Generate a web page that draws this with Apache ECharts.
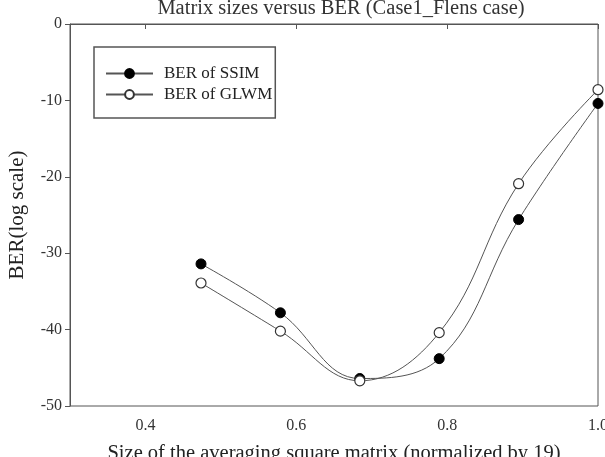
<!DOCTYPE html>
<html>
<head>
<meta charset="utf-8">
<script src="https://cdn.jsdelivr.net/npm/echarts@6/dist/echarts.min.js"></script>
<style>
  html, body { margin: 0; padding: 0; background: #fff; }
  #chart { width: 605px; height: 457px; }
</style>
</head>
<body>
<div id="chart"></div>
<script>
// matrix sizes 9..19, normalized by 19
const sizes = [9 / 19, 11 / 19, 13 / 19, 15 / 19, 17 / 19, 19 / 19]
const berSSIM = [-31.4, -37.8, -46.4, -43.8, -25.6, -10.4]
const berGLWM = [-33.9, -40.2, -46.7, -40.4, -20.9, -8.6]
const xTicks = [0.4, 0.6, 0.8, 1.0]

const font = 'Liberation Serif'
const axisColor = '#555'

const chart = echarts.init(document.getElementById('chart'))

const option = {
  backgroundColor: '#fff',
  animation: false,
  title: {
    text: 'Matrix sizes versus BER (Case1_Flens case)',
    left: 336,
    textAlign: 'center',
    top: -7,
    textStyle: { fontFamily: font, fontSize: 20.5, fontWeight: 'normal', color: '#333' }
  },
  legend: {
    orient: 'vertical',
    left: 94,
    top: 47,
    padding: [18, 3, 15, 11],
    itemGap: 4,
    itemWidth: 47,
    itemHeight: 11,
    borderColor: '#555',
    borderWidth: 1.5,
    textStyle: { fontFamily: font, fontSize: 17, color: '#222', padding: [0, 0, 0, 6] },
    data: ['BER of SSIM', 'BER of GLWM']
  },
  grid: {
    left: 70, right: 7, top: 24, bottom: 51,
    outerBoundsMode: 'none',
    containLabel: false,
    show: true,
    borderColor: axisColor,
    borderWidth: 1
  },
  xAxis: {
    type: 'value',
    min: 0.3,
    max: 1.0,
    name: 'Size of the averaging square matrix (normalized by 19)',
    nameLocation: 'middle',
    nameGap: 37,
    nameTextStyle: { fontFamily: font, fontSize: 20.5, color: '#222' },
    axisLine: { show: true, lineStyle: { color: axisColor } },
    axisTick: { show: true, customValues: xTicks, length: 5, lineStyle: { color: axisColor } },
    axisLabel: {
      customValues: xTicks,
      fontFamily: font, fontSize: 16, color: '#333', margin: 12,
      formatter: v => v.toFixed(1)
    },
    splitLine: { show: false }
  },
  yAxis: {
    type: 'value',
    min: -50,
    max: 0,
    interval: 10,
    name: 'BER(log scale)',
    nameLocation: 'middle',
    nameGap: 42,
    nameTextStyle: { fontFamily: font, fontSize: 21, color: '#222' },
    axisLine: { show: true, lineStyle: { color: axisColor } },
    axisTick: { show: true, length: 5, lineStyle: { color: axisColor } },
    axisLabel: { fontFamily: font, fontSize: 16, color: '#333', margin: 8 },
    splitLine: { show: false }
  },
  series: [
    {
      name: 'BER of SSIM',
      type: 'line',
      data: sizes.map((x, i) => [x, berSSIM[i]]),
      smooth: 0.4,
      symbol: 'circle',
      symbolSize: 10,
      lineStyle: { color: '#555', width: 1 },
      itemStyle: { color: '#000', borderColor: '#000', borderWidth: 1 }
    },
    {
      name: 'BER of GLWM',
      type: 'line',
      data: sizes.map((x, i) => [x, berGLWM[i]]),
      smooth: 0.4,
      symbol: 'circle',
      symbolSize: 10,
      lineStyle: { color: '#555', width: 1 },
      itemStyle: { color: '#fff', borderColor: '#333', borderWidth: 1.2 }
    }
  ]
}

chart.setOption(option)
</script>
</body>
</html>
